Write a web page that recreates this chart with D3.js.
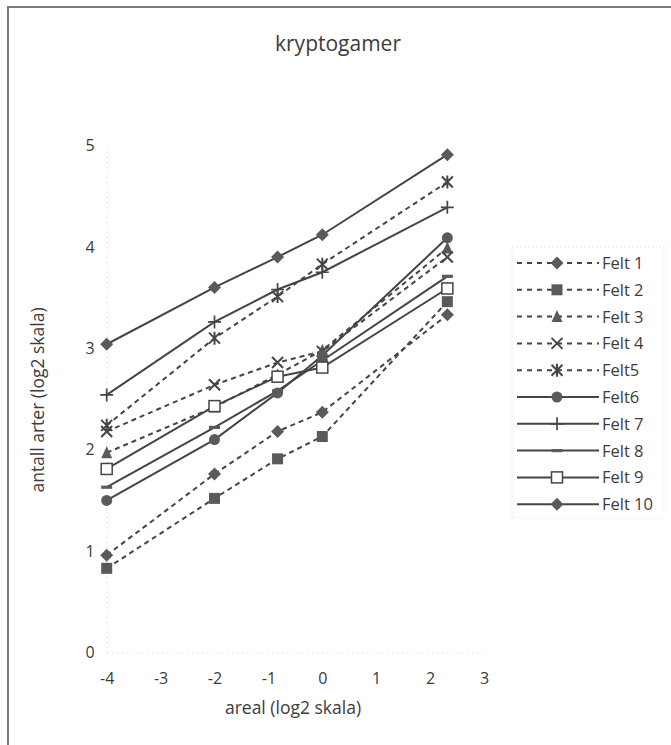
<!DOCTYPE html>
<html>
<head>
<meta charset="utf-8">
<script src="https://cdn.jsdelivr.net/npm/d3@7"></script>
<style>
  body { margin: 0; background: #fdfdfd; }
  svg { display: block; font-family: "Open Sans", "Noto Sans", sans-serif; }
</style>
</head>
<body>
<svg id="chart"></svg>
<script>
// areal (log2) positions
const xValues = [-4, -2, -0.83, 0, 2.32];

const seriesNames = ["Felt 1", "Felt 2", "Felt 3", "Felt 4", "Felt5",
  "Felt6", "Felt 7", "Felt 8", "Felt 9", "Felt 10"];

const felt1 = [0.96, 1.76, 2.18, 2.37, 3.33];
const felt2 = [0.83, 1.52, 1.91, 2.13, 3.46];
const felt3 = [1.97, 2.42, 2.74, 2.98, 3.99];
const felt4 = [2.18, 2.64, 2.86, 2.97, 3.90];
const felt5 = [2.24, 3.10, 3.51, 3.83, 4.64];
const felt6 = [1.50, 2.10, 2.56, 2.93, 4.09];
const felt7 = [2.54, 3.26, 3.58, 3.75, 4.39];
const felt8 = [1.63, 2.22, 2.58, 2.88, 3.71];
const felt9 = [1.81, 2.43, 2.72, 2.81, 3.59];
const felt10 = [3.04, 3.60, 3.90, 4.12, 4.91];

const xTicks = [-4, -3, -2, -1, 0, 1, 2, 3];
const yTicks = [0, 1, 2, 3, 4, 5];

const seriesValues = [felt1, felt2, felt3, felt4, felt5, felt6, felt7, felt8, felt9, felt10];
const dashed = [true, true, true, true, true, false, false, false, false, false];
const markers = ["diamond", "square", "triangle", "x", "star", "circle", "plus", "dash", "opensquare", "diamond"];

const width = 671, height = 745;
const lineColor = "#454545";
const markColor = "#5a5a5a";
const textColor = "#3c3c3c";

const svg = d3.select("#chart").attr("width", width).attr("height", height);

svg.append("rect")
  .attr("x", 8).attr("y", 7)
  .attr("width", 700).attr("height", 800)
  .attr("fill", "#fff")
  .attr("stroke", "#7a7a7a").attr("stroke-width", 2);

const x = d3.scaleLinear().domain([-4, 3]).range([106.7, 484]);
const y = d3.scaleLinear().domain([0, 5]).range([652.5, 145.5]);

// title
svg.append("text")
  .attr("x", 338).attr("y", 51)
  .attr("text-anchor", "middle")
  .attr("font-size", 21)
  .attr("fill", textColor)
  .text("kryptogamer");

// axes (faint dotted, as in the scan); plain hyphen for negatives
const xAxis = svg.append("g")
  .attr("transform", `translate(0,${y(0)})`)
  .call(d3.axisBottom(x).tickValues(xTicks).tickSize(0).tickPadding(20).tickFormat(d => String(d)));
const yAxis = svg.append("g")
  .attr("transform", `translate(${x(-4)},0)`)
  .call(d3.axisLeft(y).tickValues(yTicks).tickSize(0).tickPadding(12).tickFormat(d => String(d)));

[xAxis, yAxis].forEach(a => {
  a.select(".domain").attr("stroke", "#cfcfcf").attr("stroke-dasharray", "1,4");
  a.selectAll("text").attr("font-size", 16).attr("fill", textColor)
    .attr("font-family", "\"Open Sans\", \"Noto Sans\", sans-serif");
});

svg.append("text")
  .attr("x", 293).attr("y", 714)
  .attr("text-anchor", "middle")
  .attr("font-size", 17.5)
  .attr("fill", textColor)
  .text("areal (log2 skala)");

svg.append("text")
  .attr("transform", "translate(44,400) rotate(-90)")
  .attr("text-anchor", "middle")
  .attr("font-size", 17.5)
  .attr("fill", textColor)
  .text("antall arter (log2 skala)");

function drawMarker(g, type) {
  const s = 5.5;
  if (type === "diamond") {
    g.append("path").attr("d", `M0,${-s - 1}L${s + 1},0L0,${s + 1}L${-s - 1},0Z`).attr("fill", markColor);
  } else if (type === "square") {
    g.append("rect").attr("x", -s).attr("y", -s).attr("width", 2 * s).attr("height", 2 * s).attr("fill", markColor);
  } else if (type === "opensquare") {
    g.append("rect").attr("x", -s).attr("y", -s).attr("width", 2 * s).attr("height", 2 * s)
      .attr("fill", "#fff").attr("stroke", lineColor).attr("stroke-width", 1.5);
  } else if (type === "triangle") {
    g.append("path").attr("d", `M0,${-s - 1}L${s},${s}L${-s},${s}Z`).attr("fill", markColor);
  } else if (type === "circle") {
    g.append("circle").attr("r", s).attr("fill", markColor);
  } else if (type === "x") {
    g.append("path").attr("d", `M${-s},${-s}L${s},${s}M${s},${-s}L${-s},${s}`)
      .attr("stroke", lineColor).attr("stroke-width", 2);
  } else if (type === "star") {
    g.append("path").attr("d", `M${-s},${-s}L${s},${s}M${s},${-s}L${-s},${s}M0,${-s - 1}L0,${s + 1}`)
      .attr("stroke", lineColor).attr("stroke-width", 2);
  } else if (type === "plus") {
    g.append("path").attr("d", `M${-s - 1},0L${s + 1},0M0,${-s - 1}L0,${s + 1}`)
      .attr("stroke", lineColor).attr("stroke-width", 1.7);
  } else if (type === "dash") {
    g.append("rect").attr("x", -s).attr("y", -1.6).attr("width", 2 * s).attr("height", 3.2).attr("fill", markColor);
  }
}

const line = d3.line().x((d, i) => x(xValues[i])).y(d => y(d));

const plot = svg.append("g");
seriesValues.forEach((vals, k) => {
  plot.append("path")
    .attr("d", line(vals))
    .attr("fill", "none")
    .attr("stroke", lineColor)
    .attr("stroke-width", 2)
    .attr("stroke-dasharray", dashed[k] ? "5,4" : null);
});
seriesValues.forEach((vals, k) => {
  vals.forEach((v, i) => {
    const g = plot.append("g").attr("transform", `translate(${x(xValues[i])},${y(v)})`);
    drawMarker(g, markers[k]);
  });
});

// legend
const legend = svg.append("g");
legend.append("rect")
  .attr("x", 512).attr("y", 247)
  .attr("width", 152).attr("height", 271)
  .attr("fill", "none")
  .attr("stroke", "#dadada")
  .attr("stroke-dasharray", "1,3");

seriesNames.forEach((name, k) => {
  const item = legend.append("g").attr("transform", `translate(0,${263 + k * 26.8})`);
  item.append("line")
    .attr("x1", 517).attr("x2", 599).attr("y1", 0).attr("y2", 0)
    .attr("stroke", lineColor).attr("stroke-width", 2)
    .attr("stroke-dasharray", dashed[k] ? "5,5" : null);
  drawMarker(item.append("g").attr("transform", "translate(557,0)"), markers[k]);
  item.append("text")
    .attr("x", 602).attr("y", 0).attr("dy", "0.36em")
    .attr("font-size", 16.5)
    .attr("fill", textColor)
    .text(name);
});
</script>
</body>
</html>
